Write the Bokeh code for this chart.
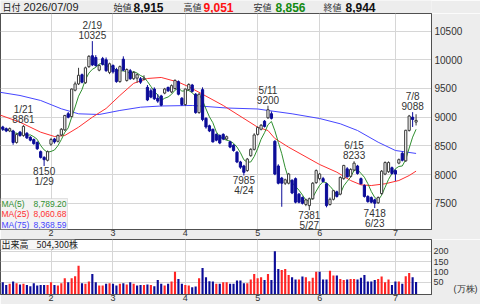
import numpy as np
import pandas as pd
from bokeh.plotting import figure
from bokeh.layouts import column
from bokeh.models import ColumnDataSource, FixedTicker, Label, BoxAnnotation, Range1d
from bokeh.core.properties import value
from bokeh.embed import file_html
from bokeh.resources import INLINE

# ---------------- data ----------------
holidays = ["2026-02-11", "2026-02-23", "2026-03-20", "2026-04-29",
            "2026-05-04", "2026-05-05", "2026-05-06"]
dates = pd.bdate_range("2026-01-13", "2026-07-09", freq="C", holidays=holidays)

opens = [8830, 8800, 8760, 8760, 8560, 8740, 8680, 8720, 8650, 8610,
         8560, 8400, 8300, 8250, 8530, 8620, 8580, 8690, 8780, 9060,
         9010, 9470, 9580, 9740, 9600, 9880, 10070, 10040, 9820, 10020,
         10000, 9780, 9900, 9830, 9620, 10010, 9640, 9810, 9670, 9680,
         9670, 9660, 9520, 9460, 9490, 9330, 9370, 9420, 9520, 9440,
         9500, 9620, 9330, 9220, 9480, 9560, 9400, 9080, 9480, 8980,
         8850, 8790, 8700, 8680, 8700, 8620, 8570, 8510, 8390, 8220,
         8150, 8070, 8330, 8440, 8700, 8790, 8930, 8990, 9060, 8580,
         8150, 7940, 7850, 7850, 7900, 7930, 7660, 7600, 7480, 7460,
         7580, 7860, 7930, 7930, 7840, 7480, 7570, 7700, 7660, 7930,
         8100, 7970, 8080, 8150, 7930, 7810, 7620, 7600, 7560, 7510,
         7670, 8010, 8050, 8120, 8070, 8200, 8370, 8240, 8770, 9000,
         8915]
highs = [8850, 8820, 8820, 8780, 8720, 8760, 8861, 8740, 8670, 8630,
         8580, 8420, 8320, 8420, 8640, 8640, 8700, 8810, 9040, 9090,
         9500, 9620, 9860, 9760, 9880, 10080, 10325, 10080, 9920, 10050,
         10040, 9950, 9920, 9860, 9900, 10060, 9850, 9840, 9800, 9760,
         9700, 9730, 9560, 9500, 9520, 9400, 9390, 9510, 9530, 9570,
         9660, 9640, 9350, 9500, 9590, 9580, 9420, 9420, 9520, 9000,
         8870, 8800, 8720, 8700, 8720, 8680, 8590, 8530, 8410, 8240,
         8170, 8290, 8460, 8720, 8840, 8880, 8950, 9200, 9100, 8600,
         8180, 7960, 7930, 8030, 7920, 7950, 7680, 7620, 7580, 7600,
         7870, 8090, 8030, 7960, 7860, 7600, 7730, 7720, 7970, 8170,
         8130, 8110, 8233, 8170, 7950, 7830, 7640, 7620, 7580, 7620,
         8080, 8230, 8230, 8140, 8090, 8280, 8400, 8780, 9040, 9088,
         9051]
lows = [8760, 8740, 8740, 8520, 8540, 8660, 8660, 8620, 8580, 8520,
        8430, 8280, 8150, 8230, 8500, 8540, 8560, 8670, 8760, 8980,
        9000, 9450, 9560, 9590, 9580, 9860, 9890, 9880, 9800, 9900,
        9790, 9750, 9760, 9600, 9600, 9800, 9620, 9650, 9650, 9600,
        9580, 9640, 9280, 9330, 9300, 9250, 9190, 9400, 9440, 9420,
        9480, 9380, 9200, 9200, 9460, 9430, 9060, 9060, 8930, 8800,
        8740, 8560, 8580, 8530, 8600, 8600, 8460, 8400, 8200, 8100,
        7985, 8050, 8310, 8420, 8680, 8770, 8820, 8970, 8960, 7990,
        7830, 7440, 7820, 7830, 7660, 7500, 7500, 7480, 7450, 7381,
        7560, 7840, 7900, 7860, 7430, 7460, 7550, 7600, 7640, 7910,
        7950, 7950, 8060, 8000, 7830, 7600, 7510, 7500, 7418, 7490,
        7650, 7990, 8030, 8000, 7890, 8180, 8230, 8220, 8750, 8830,
        8856]
closes = [8790, 8760, 8800, 8560, 8700, 8680, 8840, 8640, 8600, 8540,
          8450, 8300, 8260, 8400, 8610, 8570, 8680, 8790, 9030, 9000,
          9490, 9580, 9730, 9610, 9860, 10060, 9910, 9900, 9900, 9920,
          9810, 9930, 9790, 9620, 9880, 9820, 9830, 9670, 9780, 9740,
          9610, 9680, 9300, 9350, 9320, 9280, 9210, 9490, 9460, 9550,
          9640, 9400, 9220, 9490, 9570, 9450, 9080, 9400, 8960, 8830,
          8760, 8570, 8600, 8550, 8620, 8660, 8480, 8420, 8220, 8130,
          8040, 8270, 8440, 8690, 8820, 8860, 8840, 9130, 8980, 8010,
          7850, 7850, 7910, 8010, 7680, 7520, 7520, 7500, 7560, 7580,
          7850, 8070, 8010, 7880, 7460, 7570, 7720, 7620, 7950, 8160,
          7960, 8090, 8200, 8020, 7840, 7620, 7530, 7520, 7500, 7600,
          8060, 8210, 8210, 8020, 8010, 8260, 8250, 8772, 9020, 8960,
          8944]
# volume in 10,000 shares (万株)
volumes = [50, 37, 42, 53, 45, 39, 42, 37, 31, 45,
           34, 37, 37, 37, 50, 37, 34, 45, 69, 50,
           69, 79, 130, 45, 42, 53, 90, 50, 34, 34,
           42, 45, 42, 34, 42, 45, 39, 50, 42, 34,
           37, 37, 39, 37, 31, 61, 42, 34, 42, 53,
           101, 66, 42, 37, 34, 26, 29, 69, 119, 74,
           55, 53, 42, 42, 50, 50, 42, 42, 58, 58,
           45, 45, 63, 90, 69, 74, 61, 90, 61, 200,
           114, 109, 114, 85, 74, 63, 63, 77, 74, 55,
           71, 101, 101, 63, 63, 106, 82, 82, 66, 61,
           63, 66, 66, 63, 71, 85, 53, 53, 61, 66,
           77, 50, 63, 37, 53, 53, 42, 79, 95, 74,
           50.43]

# moving averages (trading-day position, value)
ma25_pos = [-1, 5, 11, 15, 18, 22, 26, 30, 34, 38, 42, 46, 51, 54, 64, 74, 77, 79,
            83, 92, 97, 101, 104, 107, 111, 115, 118, 120]
ma25_val = [9042, 8913, 8739, 8664, 8681, 8826, 9000, 9152, 9378, 9590, 9674, 9692,
            9610, 9530, 9204, 8826, 8768, 8629, 8477, 8176, 8042, 7897, 7822, 7810,
            7840, 7897, 7984, 8060.68]
ma75_pos = [-1, 5, 11, 17, 22, 28, 34, 40, 46, 55, 65, 74, 77, 84, 92, 98, 103, 109,
            114, 120]
ma75_val = [9436, 9378, 9291, 9146, 9059, 9047, 9117, 9174, 9195, 9204, 9160, 9143,
            9117, 9059, 8977, 8885, 8768, 8564, 8420, 8368.59]

price_ticks = [7500, 8000, 8500, 9000, 9500, 10000, 10500]
vol_ticks = [50, 100, 150, 200]
vol_unit_label = "(万株)"
ann_dates = ["2026-01-21", "2026-01-29", "2026-02-19", "2026-04-24", "2026-05-11",
             "2026-05-27", "2026-06-15", "2026-06-23", "2026-07-08"]
ann_kind = ["high", "low", "high", "low", "high", "low", "high", "low", "high"]

# ---------------- derived ----------------
n = len(dates)
xs = np.arange(n)
o = np.array(opens, float); h = np.array(highs, float)
l = np.array(lows, float); c = np.array(closes, float)
up = c >= o
BLUE = "#0c0c98"
RED_V = "#ff2424"
src = ColumnDataSource(dict(
    x=xs, top=np.maximum(o, c), bottom=np.minimum(o, c), high=h, low=l,
    fill=["#ffffff" if u else BLUE for u in up],
    line=["#3a3a3a" if u else BLUE for u in up]))
ma5 = pd.Series(c).rolling(5, min_periods=1).mean().values
prev_c = np.concatenate([[o[0]], c[:-1]])
vcol = [RED_V if cc >= pc else BLUE for cc, pc in zip(c, prev_c)]

month_pos = [i for i in range(1, n) if dates[i].month != dates[i - 1].month]
month_lab = {float(i): str(dates[i].month) for i in month_pos}

XR = Range1d(-0.665, 124.48)
GRID = "#d6d6d6"
BG = "#ededed"
AX = "#505050"
TXT = "#333333"
JP = "Noto Sans CJK JP"
LS = "Liberation Sans"


def lab(fig, x, y, text, size, color, font=JP, align="left", bold=False, yu="screen"):
    fig.add_layout(Label(x=x, y=y, x_units="screen", y_units=yu, text=text,
                         text_font=font, text_font_size=size, text_color=color,
                         text_align=align, text_baseline="middle",
                         text_font_style="bold" if bold else "normal"))


def style_axes(fig, ysize, ystand):
    for ax in (fig.xaxis, fig.yaxis):
        ax.major_tick_line_color = None
        ax.minor_tick_line_color = None
        ax.major_tick_out = 0
        ax.major_tick_in = 0
        ax.minor_tick_out = 0
        ax.axis_line_color = AX
        ax.major_label_text_color = TXT
        ax.major_label_text_font = LS
    fig.xaxis.major_label_text_font_size = "9px"
    fig.xaxis.major_label_standoff = 0
    fig.yaxis.major_label_text_font_size = ysize
    fig.yaxis.major_label_standoff = ystand


# ---------------- header strip ----------------
hdr = figure(width=480, height=13, x_range=Range1d(0, 1), y_range=Range1d(0, 1),
             output_backend="svg", toolbar_location=None,
             x_axis_location=None, y_axis_location=None, min_border=0,
             background_fill_color=BG, border_fill_color=BG, outline_line_color=None)
hdr.grid.visible = False
last = dates[-1]
HY = 6.5
lab(hdr, 2, HY, "日付", "9px", "#222222")
lab(hdr, 23, HY, last.strftime("%Y/%m/%d"), "11px", "#222222", font=LS)
hdr_items = [("始値", f"{int(o[-1]):,}", "#111111", 113, 133),
             ("高値", f"{int(h[-1]):,}", "#ff1010", 183, 203),
             ("安値", f"{int(l[-1]):,}", "#138a13", 253, 275),
             ("終値", f"{int(c[-1]):,}", "#111111", 323, 345)]
for name, val, col, x0, x1 in hdr_items:
    lab(hdr, x0, HY, name, "9px", "#333333")
    lab(hdr, x1, HY, val, "12px", col, font=LS, bold=True)

# ---------------- price figure ----------------
p = figure(width=480, height=226, x_range=XR, y_range=Range1d(7044, 10806),
           output_backend="svg", toolbar_location=None, y_axis_location="right",
           min_border_left=0, min_border_right=47, min_border_top=0, min_border_bottom=10,
           border_fill_color=BG, background_fill_color="#ffffff",
           outline_line_color=AX)
p.xgrid.ticker = FixedTicker(ticks=month_pos)
p.ygrid.ticker = FixedTicker(ticks=price_ticks)
p.grid.grid_line_color = GRID
p.xaxis.ticker = FixedTicker(ticks=month_pos)
p.xaxis.major_label_overrides = month_lab
p.yaxis.ticker = FixedTicker(ticks=price_ticks)
style_axes(p, "10px", 3)

p.line(ma75_pos, ma75_val, color="#4646ff", line_width=1)
p.line(ma25_pos, ma25_val, color="#ff3030", line_width=1)
p.line(xs, ma5, color="#2f8f2f", line_width=1)
p.segment(x0="x", y0="high", x1="x", y1="low", color="line", source=src, line_width=1)
p.vbar(x="x", width=0.64, top="top", bottom="bottom", fill_color="fill",
       line_color="line", line_width=1, source=src)

# high / low annotations
hx, hy, ht, lx, ly, lt = [], [], [], [], [], []
for d, k in zip(ann_dates, ann_kind):
    i = int(np.where(dates == pd.Timestamp(d))[0][0])
    md = f"{dates[i].month}/{dates[i].day}"
    if k == "high":
        hx.append(i); hy.append(h[i]); ht.append(f"{md}\n{int(h[i])}")
    else:
        lx.append(i); ly.append(l[i]); lt.append(f"{int(l[i])}\n{md}")
p.text(x=hx, y=hy, text=ht, text_align="center", text_baseline="bottom",
       text_font=value(LS), text_font_size="10px", text_color=TXT,
       text_line_height=0.9, y_offset=0)
p.text(x=lx, y=ly, text=lt, text_align="center", text_baseline="top",
       text_font=value(LS), text_font_size="10px", text_color=TXT,
       text_line_height=0.9, y_offset=0)

# MA legend box
p.add_layout(BoxAnnotation(left=0, right=67, bottom=0, top=31, left_units="screen",
                           right_units="screen", bottom_units="screen", top_units="screen",
                           fill_color="#f3f3f3", fill_alpha=1.0, line_color="#aaaaaa",
                           line_width=1))
leg = [("MA(5)", ma5[-1], "#2f8f2f", 26),
       ("MA(25)", ma25_val[-1], "#ff3030", 15.5),
       ("MA(75)", ma75_val[-1], "#4646ff", 5)]
for name, vv, col, yy in leg:
    lab(p, 1, yy, name, "8.5px", col, font=LS)
    lab(p, 66, yy, f"{vv:,.2f}", "8.5px", col, font=LS, align="right")

# ---------------- volume figure ----------------
vr = Range1d(-9.5, 256.6)
v = figure(width=480, height=65, x_range=XR, y_range=vr,
           output_backend="svg", toolbar_location=None, y_axis_location="right",
           min_border_left=0, min_border_right=47, min_border_top=0, min_border_bottom=10,
           border_fill_color=BG, background_fill_color="#ffffff",
           outline_line_color=AX)
v.xgrid.ticker = FixedTicker(ticks=month_pos)
v.ygrid.ticker = FixedTicker(ticks=vol_ticks)
v.grid.grid_line_color = GRID
v.xaxis.ticker = FixedTicker(ticks=month_pos)
v.xaxis.major_label_overrides = month_lab
unit_tick = 19.5
v.yaxis.ticker = FixedTicker(ticks=vol_ticks + [unit_tick])
v.yaxis.major_label_overrides = {unit_tick: "\u00a0" * 8 + vol_unit_label}
style_axes(v, "9px", 2)

v.vbar(x=xs, top=volumes, bottom=vr.start, width=0.62, fill_color=vcol, line_color=None)

box_h = (vr.end - vr.start) * 10 / 55.0
v.add_layout(BoxAnnotation(left=0, right=74, bottom=vr.end - box_h, top=vr.end,
                           left_units="screen", right_units="screen",
                           fill_color="#f6f6f6", fill_alpha=1.0, line_color="#999999",
                           line_width=1))
lab(v, 1, vr.end - box_h / 2, "出来高", "9px", "#222222", yu="data")
lab(v, 36, vr.end - box_h / 2, f"{int(round(volumes[-1] * 10000)):,}株", "9px",
    "#222222", yu="data")

layout = column(hdr, p, v, spacing=0)
open("out.html", "w").write(file_html(layout, INLINE))
